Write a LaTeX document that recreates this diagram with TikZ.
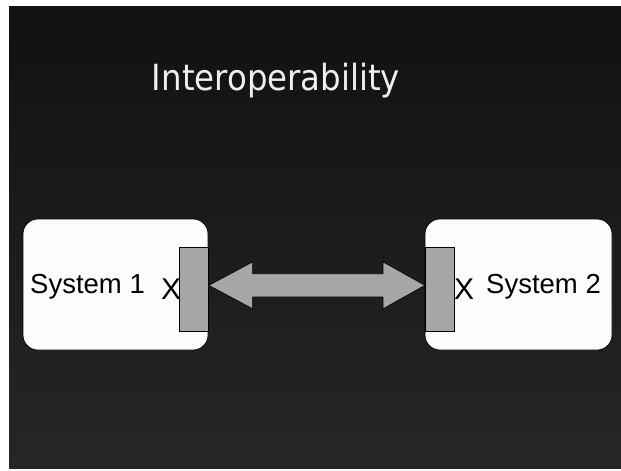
\documentclass[tikz,border=0pt]{standalone}
\usepackage{fontspec}
\setmainfont{Liberation Sans}
\newfontfamily\titlefont{DejaVu Sans Condensed}
\usetikzlibrary{calc}
\definecolor{bgtop}{HTML}{111111}
\definecolor{bgbot}{HTML}{262626}
\definecolor{sysfill}{HTML}{FCFCFC}
\definecolor{portgray}{HTML}{A6A6A6}
\definecolor{titlecol}{HTML}{EEEEEE}
\tikzset{
  sysbox/.style={draw=black, fill=sysfill, rounded corners=15pt, line width=0.7pt},
  portbox/.style={draw=black, fill=portgray, line width=0.7pt},
  systext/.style={font=\fontsize{27.5}{30}\selectfont, text=black, inner sep=0pt, anchor=base west},
  xtext/.style={font=\fontsize{30}{32}\selectfont, text=black, inner sep=0pt, anchor=base west},
  linkarrow/.style={draw=black, fill=portgray, line width=0.7pt},
}
\begin{document}
\begin{tikzpicture}[x=1pt,y=-1pt]
\useasboundingbox (0,0) rectangle (621,471);
\fill[white] (0,0) rectangle (621,471);
\shade[top color=bgtop, bottom color=bgbot] (9,6) rectangle (621,468);
\node[font=\titlefont\fontsize{36}{40}\selectfont, text=titlecol, inner sep=0pt, anchor=base] (title) at (276,90) {Interoperability};
% systems
\draw[sysbox] (23,219) rectangle (208,350);
\draw[sysbox] (425,219) rectangle (612,350);
\node[portbox, minimum width=29pt, minimum height=84pt, inner sep=0pt, anchor=north west] (p1) at (179,247) {};
\node[portbox, minimum width=29pt, minimum height=84pt, inner sep=0pt, anchor=north west] (p2) at (425,247) {};
\node[systext] (t1) at (30,293) {System 1};
\node[xtext] (x1) at (161,299) {X};
\node[xtext] (x2) at (454,299) {X};
\node[systext] (t2) at (486,293) {System 2};
% double arrow between ports
\coordinate (L) at ($(p1.east)+(0,-4)$);
\coordinate (R) at ($(p2.west)+(0,-4)$);
\draw[linkarrow] (L) -- ++(44,-23.5) -- ++(0,12) -- ($(R)+(-42,-11.5)$) -- ++(0,-12) -- (R)
  -- ++(-42,23.5) -- ++(0,-12) -- ($(L)+(44,11.5)$) -- ++(0,12) -- cycle;
\end{tikzpicture}
\end{document}
